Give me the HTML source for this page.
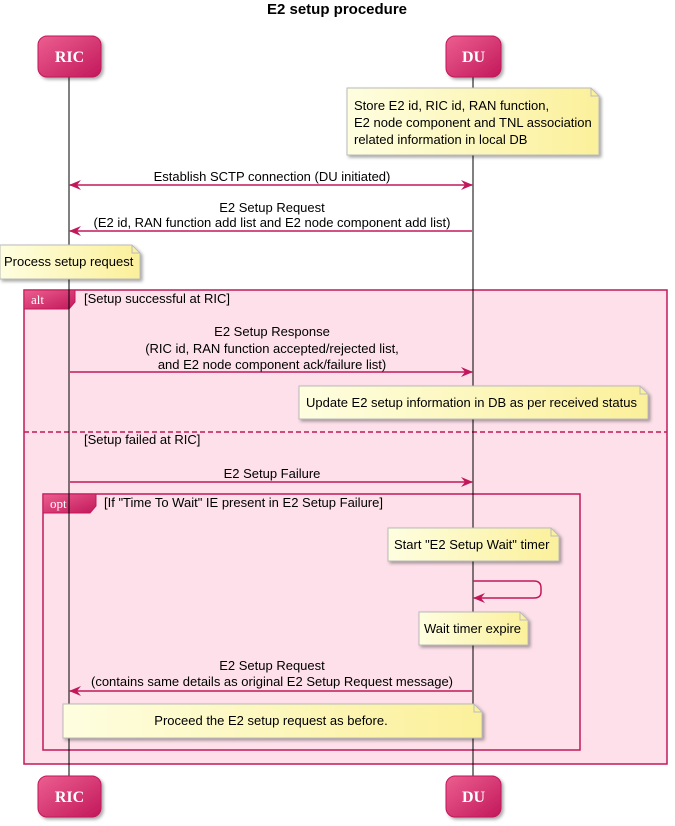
<!DOCTYPE html>
<html><head><meta charset="utf-8"><style>
html,body{margin:0;padding:0;background:#fff;width:675px;height:826px;overflow:hidden}
svg text{font-family:"Liberation Sans",sans-serif;font-size:13px;fill:#000}
</style></head><body>
<svg width="675" height="826" viewBox="0 0 675 826" xmlns="http://www.w3.org/2000/svg">
<defs>
<linearGradient id="pg" x1="0" y1="0" x2="1" y2="1"><stop offset="0" stop-color="#ec5f8f"/><stop offset="1" stop-color="#c2185b"/></linearGradient>
<linearGradient id="ng" x1="0" y1="0" x2="1" y2="0"><stop offset="0" stop-color="#fefee0"/><stop offset="1" stop-color="#fbf09a"/></linearGradient>
<filter id="sh" x="-10%" y="-10%" width="130%" height="140%"><feDropShadow dx="2" dy="2" stdDeviation="1.5" flood-color="#000" flood-opacity="0.35"/></filter>
<marker id="ah" markerWidth="12" markerHeight="10" refX="11" refY="5" orient="auto-start-reverse" markerUnits="userSpaceOnUse"><path d="M0,0 L12,5 L0,10 L4,5 Z" fill="#c2185b"/></marker>
</defs>
<text x="337" y="14" text-anchor="middle" style="font-size:15px;font-weight:bold">E2 setup procedure</text>

<rect x="24" y="290" width="643" height="474" fill="#fde0e9" stroke="#c2185b" stroke-width="1.5"/>
<path d="M24,290 H75 V302 L69,309 H24 Z" fill="url(#pg)" stroke="#c2185b"/>
<text x="31" y="304" style="font-family:'Liberation Serif',serif;font-size:13px;fill:#fff">alt</text>
<text x="84" y="303">[Setup successful at RIC]</text>
<line x1="24" y1="432" x2="667" y2="432" stroke="#c2185b" stroke-width="1.5" stroke-dasharray="5,3"/>
<text x="84" y="444">[Setup failed at RIC]</text>

<rect x="43" y="494" width="537" height="256" fill="none" stroke="#c2185b" stroke-width="1.5"/>
<path d="M43,494 H96 V506 L90,513 H43 Z" fill="url(#pg)" stroke="#c2185b"/>
<text x="50" y="508" style="font-family:'Liberation Serif',serif;font-size:13px;fill:#fff">opt</text>
<text x="104" y="507">[If "Time To Wait" IE present in E2 Setup Failure]</text>

<line x1="69" y1="77" x2="69" y2="776" stroke="#000"/>
<line x1="473" y1="77" x2="473" y2="776" stroke="#000"/>

<g filter="url(#sh)">
<rect x="38" y="36" width="63" height="41" rx="9" fill="url(#pg)" stroke="#c2185b"/>
<rect x="446" y="36" width="55" height="41" rx="9" fill="url(#pg)" stroke="#c2185b"/>
<rect x="38" y="776" width="63" height="41" rx="9" fill="url(#pg)" stroke="#c2185b"/>
<rect x="446" y="776" width="55" height="41" rx="9" fill="url(#pg)" stroke="#c2185b"/>
</g>
<g text-anchor="middle">
<text x="69.5" y="62" style="font-family:'Liberation Serif',serif;font-size:16px;font-weight:bold;fill:#fff">RIC</text>
<text x="473.5" y="62" style="font-family:'Liberation Serif',serif;font-size:16px;font-weight:bold;fill:#fff">DU</text>
<text x="69.5" y="802" style="font-family:'Liberation Serif',serif;font-size:16px;font-weight:bold;fill:#fff">RIC</text>
<text x="473.5" y="802" style="font-family:'Liberation Serif',serif;font-size:16px;font-weight:bold;fill:#fff">DU</text>
</g>

<g filter="url(#sh)" stroke="#bbb" fill="url(#ng)">
<path d="M347,88 H591 L599,96 V155 H347 Z"/>
<path d="M0,245 H132 L140,253 V279 H0 Z"/>
<path d="M299,386 H640 L648,394 V419 H299 Z"/>
<path d="M388,528 H551 L559,536 V561 H388 Z"/>
<path d="M419,612 H520 L528,620 V645 H419 Z"/>
<path d="M63,704 H474 L482,712 V738 H63 Z"/>
</g>
<g fill="none" stroke="#bbb">
<path d="M591,88 V96 H599"/><path d="M132,245 V253 H140"/><path d="M640,386 V394 H648"/>
<path d="M551,528 V536 H559"/><path d="M520,612 V620 H528"/><path d="M474,704 V712 H482"/>
</g>
<text x="354" y="110">Store E2 id, RIC id, RAN function,</text>
<text x="354" y="127">E2 node component and TNL association</text>
<text x="354" y="144">related information in local DB</text>
<text x="4" y="266">Process setup request</text>
<text x="306" y="407">Update E2 setup information in DB as per received status</text>
<text x="394" y="549">Start "E2 Setup Wait" timer</text>
<text x="424" y="633">Wait timer expire</text>
<text x="271" y="725" text-anchor="middle">Proceed the E2 setup request as before.</text>

<g stroke="#c2185b" stroke-width="1.5" fill="none">
<line x1="70" y1="185" x2="472" y2="185" marker-start="url(#ah)" marker-end="url(#ah)"/>
<line x1="472" y1="231" x2="70" y2="231" marker-end="url(#ah)"/>
<line x1="70" y1="372" x2="472" y2="372" marker-end="url(#ah)"/>
<line x1="70" y1="482" x2="472" y2="482" marker-end="url(#ah)"/>
<path d="M473,581 H534 Q541,581 541,588 V592 Q541,598 534,598 H474" marker-end="url(#ah)"/>
<line x1="472" y1="691" x2="70" y2="691" marker-end="url(#ah)"/>
</g>
<g text-anchor="middle">
<text x="272" y="181">Establish SCTP connection (DU initiated)</text>
<text x="272" y="212">E2 Setup Request</text>
<text x="272" y="227">(E2 id, RAN function add list and E2 node component add list)</text>
<text x="272" y="336">E2 Setup Response</text>
<text x="272" y="353">(RIC id, RAN function accepted/rejected list,</text>
<text x="272" y="369">and E2 node component ack/failure list)</text>
<text x="272" y="478">E2 Setup Failure</text>
<text x="272" y="670">E2 Setup Request</text>
<text x="272" y="686">(contains same details as original E2 Setup Request message)</text>
</g>
</svg>
</body></html>
